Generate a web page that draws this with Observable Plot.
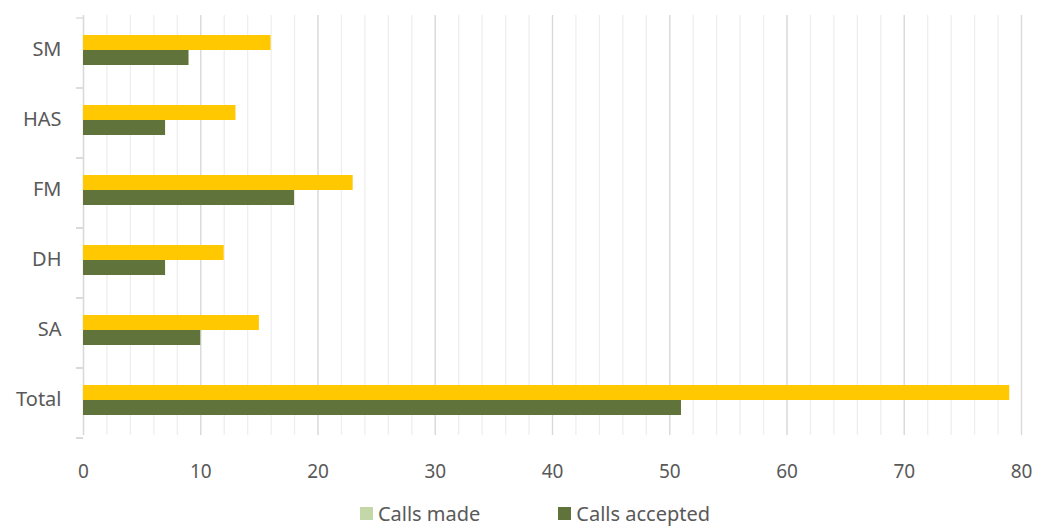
<!DOCTYPE html>
<html>
<head>
<meta charset="utf-8">
<script src="https://cdn.jsdelivr.net/npm/d3@7"></script>
<script src="https://cdn.jsdelivr.net/npm/@observablehq/plot@0.6"></script>
<style>
  html, body { margin: 0; padding: 0; background: #fff; }
  #chart { width: 1038px; }
  .legend { display: flex; justify-content: center; align-items: center; gap: 78px;
    padding-left: 32px; padding-top: 1px; font-family: "Noto Sans", sans-serif; font-size: 20px; color: #595959;
    height: 40px; }
  .legend span.item { display: flex; align-items: center; }
  .legend span.sw { display: inline-block; width: 13px; height: 13px; margin-right: 5px; }
</style>
</head>
<body>
<div id="chart"></div>
<script>
const categories = ["SM", "HAS", "FM", "DH", "SA", "Total"];
const callsMade = [16, 13, 23, 12, 15, 79];
const callsAccepted = [9, 7, 18, 7, 10, 51];
const seriesNames = ["Calls made", "Calls accepted"];
const seriesColors = ["#FFC800", "#60733A"];
const legendColors = ["#C4D7A8", "#60733A"];
const xTicks = [0, 10, 20, 30, 40, 50, 60, 70, 80];

const rows = [];
categories.forEach((c, i) => {
  rows.push({category: c, series: seriesNames[0], value: callsMade[i]});
  rows.push({category: c, series: seriesNames[1], value: callsAccepted[i]});
});

const boundaryTicks = (index, scales, values, dims) => {
  const g = d3.create("svg:g").attr("stroke", "#d9d9d9").attr("stroke-width", 1.3);
  const fy = scales.fy;
  const x0 = dims.marginLeft;
  let ys;
  if (fy) {
    ys = categories.map(c => fy(c));
    ys.push(fy(categories[categories.length - 1]) + fy.bandwidth());
  } else {
    const h = (dims.height - dims.marginTop - dims.marginBottom) / categories.length;
    ys = d3.range(categories.length + 1).map(i => dims.marginTop + i * h);
  }
  ys.forEach(y => g.append("line").attr("x1", x0 - 7).attr("x2", x0).attr("y1", y).attr("y2", y));
  return g.node();
};

const chart = Plot.plot({
  width: 1038,
  height: 492,
  marginLeft: 83,
  marginRight: 17,
  marginTop: 12,
  marginBottom: 55,
  style: {fontFamily: "'Noto Sans', sans-serif", fontSize: "19px", color: "#595959", background: "#fff"},
  x: {domain: [0, 80], axis: null},
  fy: {domain: categories, padding: 0, axis: null},
  y: {domain: seriesNames, paddingInner: 0, paddingOuter: 1.3, axis: null},
  color: {domain: seriesNames, range: seriesColors},
  marks: [
    Plot.gridX({ticks: 40, stroke: "#eeeeee", strokeOpacity: 1, strokeWidth: 1.3}),
    Plot.gridX(xTicks, {stroke: "#d9d9d9", strokeOpacity: 1, strokeWidth: 1.3}),
    Plot.ruleX([0], {stroke: "#d9d9d9", strokeWidth: 1.3}),
    Plot.barX(rows, {x: "value", y: "series", fy: "category", fill: "series"}),
    Plot.axisX(xTicks, {anchor: "bottom", tickSize: 0, tickPadding: 29, fill: "#595959", label: null, fontSize: 19}),
    Plot.axisFy({anchor: "left", tickSize: 0, tickPadding: 22, fill: "#595959", label: null, fontSize: 20, dy: -1}),
    boundaryTicks
  ]
});
document.getElementById("chart").appendChild(chart);

const legend = document.createElement("div");
legend.className = "legend";
seriesNames.forEach((s, i) => {
  const item = document.createElement("span");
  item.className = "item";
  const sw = document.createElement("span");
  sw.className = "sw";
  sw.style.background = legendColors[i];
  item.appendChild(sw);
  item.appendChild(document.createTextNode(s));
  legend.appendChild(item);
});
document.getElementById("chart").appendChild(legend);
</script>
</body>
</html>
